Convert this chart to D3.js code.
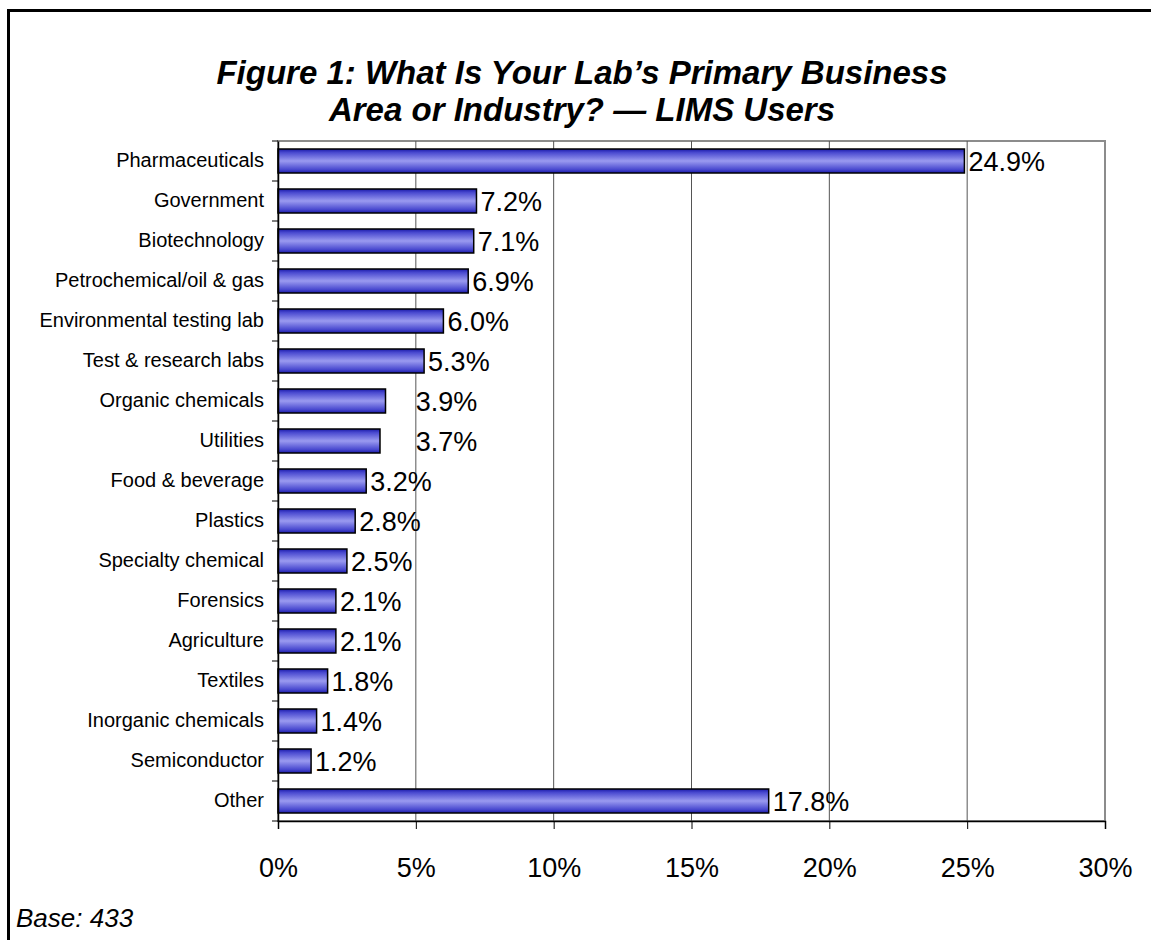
<!DOCTYPE html>
<html>
<head>
<meta charset="utf-8">
<script src="https://cdn.jsdelivr.net/npm/d3@7"></script>
<style>
  html, body { margin: 0; padding: 0; background: #fff; }
  svg { display: block; font-family: "Liberation Sans", Arial, sans-serif; }
</style>
</head>
<body>
<svg id="chart" width="1151" height="940"></svg>
<script>
// Survey responses: primary business area of LIMS users (percent)
const categories = [
  "Pharmaceuticals", "Government", "Biotechnology", "Petrochemical/oil & gas",
  "Environmental testing lab", "Test & research labs", "Organic chemicals",
  "Utilities", "Food & beverage", "Plastics", "Specialty chemical", "Forensics",
  "Agriculture", "Textiles", "Inorganic chemicals", "Semiconductor", "Other"
];
const values = [24.9, 7.2, 7.1, 6.9, 6.0, 5.3, 3.9, 3.7, 3.2, 2.8, 2.5, 2.1, 2.1, 1.8, 1.4, 1.2, 17.8];
const xTicks = [0, 5, 10, 15, 20, 25, 30];
const titleLines = ["Figure 1: What Is Your Lab\u2019s Primary Business", "Area or Industry? \u2014 LIMS Users"];
const footnote = "Base: 433";

const svg = d3.select("#chart");

// Outer frame (top and left edges)
svg.append("path")
  .attr("d", "M8.5,940 V10.5 H1151")
  .attr("fill", "none").attr("stroke", "#000").attr("stroke-width", 3);

// Title
const title = svg.append("text")
  .attr("text-anchor", "middle")
  .attr("font-size", 33).attr("font-weight", "bold").attr("font-style", "italic");
title.selectAll("tspan").data(titleLines).join("tspan")
  .attr("x", 582).attr("y", (d, i) => 84 + i * 37).text(d => d);

const plot = { left: 278, right: 1105, top: 141, bottom: 821 };

const x = d3.scaleLinear().domain([0, 30]).range([plot.left, plot.right]);
const y = d3.scaleBand().domain(categories).range([plot.top, plot.bottom]).paddingInner(0.4).paddingOuter(0.2);

// Bar gradient: dark edges, light centre
const defs = svg.append("defs");
const grad = defs.append("linearGradient").attr("id", "barFill")
  .attr("x1", 0).attr("y1", 0).attr("x2", 0).attr("y2", 1);
[[0, "#1a1aa8"], [0.15, "#4a4ad0"], [0.5, "#9a9af0"], [0.85, "#4a4ad0"], [1, "#1a1aa8"]]
  .forEach(([o, c]) => grad.append("stop").attr("offset", o).attr("stop-color", c));

// Plot frame
svg.append("rect")
  .attr("x", plot.left).attr("y", plot.top)
  .attr("width", plot.right - plot.left).attr("height", plot.bottom - plot.top)
  .attr("fill", "none").attr("stroke", "#8c8c8c").attr("stroke-width", 2);

// Vertical gridlines
svg.append("g").selectAll("line").data(xTicks.slice(1, -1)).join("line")
  .attr("x1", d => x(d)).attr("x2", d => x(d))
  .attr("y1", plot.top).attr("y2", plot.bottom)
  .attr("stroke", "#555").attr("stroke-width", 1);

// Bars
svg.append("g").selectAll("rect").data(categories).join("rect")
  .attr("x", x(0)).attr("y", d => y(d))
  .attr("width", (d, i) => x(values[i]) - x(0))
  .attr("height", y.bandwidth())
  .attr("fill", "url(#barFill)")
  .attr("stroke", "#000").attr("stroke-width", 1.5);

// Value labels; two short bars carry their labels pushed out to the 5% line
const pushedToGrid = new Set(["Organic chemicals", "Utilities"]);
svg.append("g").selectAll("text").data(categories).join("text")
  .attr("x", (d, i) => pushedToGrid.has(d) ? x(5) : x(values[i]) + 4)
  .attr("y", d => y(d) + y.bandwidth() / 2)
  .attr("dy", "0.36em")
  .attr("font-size", 27)
  .text((d, i) => values[i].toFixed(1) + "%");

// Category axis
const yAxis = svg.append("g")
  .attr("transform", `translate(${plot.left},0)`)
  .call(d3.axisLeft(y).tickSize(0).tickPadding(14));
yAxis.select(".domain").attr("stroke", "#000").attr("stroke-width", 1.5);
yAxis.selectAll("text").attr("font-size", 20).attr("fill", "#000")
  .attr("font-family", "Liberation Sans, Arial, sans-serif");

// Tick marks between categories
const bounds = d3.range(categories.length + 1).map(i => plot.top + i * (plot.bottom - plot.top) / categories.length);
svg.append("g").selectAll("line").data(bounds).join("line")
  .attr("x1", plot.left - 6).attr("x2", plot.left)
  .attr("y1", d => d).attr("y2", d => d)
  .attr("stroke", "#000").attr("stroke-width", 1);

// Value axis
const xAxis = svg.append("g")
  .attr("transform", `translate(0,${plot.bottom})`)
  .call(d3.axisBottom(x).tickValues(xTicks).tickFormat(d => d + "%").tickSize(8).tickPadding(29));
xAxis.select(".domain").attr("stroke", "#000").attr("stroke-width", 1.5);
xAxis.selectAll(".tick line").attr("stroke", "#000");
xAxis.selectAll("text").attr("font-size", 27).attr("fill", "#000")
  .attr("font-family", "Liberation Sans, Arial, sans-serif");

// Footnote
svg.append("text")
  .attr("x", 16).attr("y", 927)
  .attr("font-size", 26).attr("font-style", "italic")
  .text(footnote);
</script>
</body>
</html>
